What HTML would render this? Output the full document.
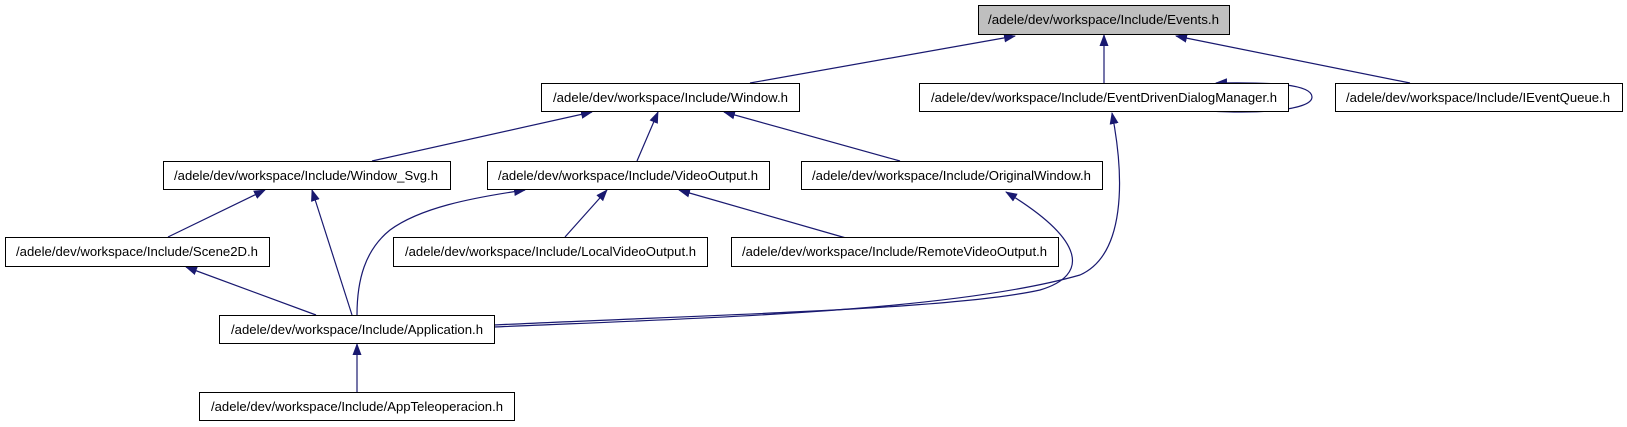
<!DOCTYPE html>
<html><head><meta charset="utf-8"><style>html,body{margin:0;padding:0;background:#fff}svg{display:block}</style></head>
<body>
<svg width="1627" height="427" viewBox="0 0 1627 427" xmlns="http://www.w3.org/2000/svg" font-family="Liberation Sans, sans-serif" font-size="13">
<defs>
<marker id="a" markerWidth="12" markerHeight="10" refX="11" refY="5" orient="auto" markerUnits="userSpaceOnUse">
<path d="M0,0.5 L12,5 L0,9.5 z" fill="#191970"/>
</marker>
</defs>
<g fill="none" stroke="#191970" stroke-width="1.2" marker-end="url(#a)">
<path d="M750,83 L1015,36"/>
<path d="M1104,83 L1104,35"/>
<path d="M1410,83 L1176,36"/>
<path d="M1210,111 C1260,114 1312,110 1312,97 C1312,84 1270,82 1216,83"/>
<path d="M372,161 L592,112"/>
<path d="M637,161 L658,112"/>
<path d="M900,161 L724,112"/>
<path d="M168,237 L265,190"/>
<path d="M352,315 L312,190"/>
<path d="M357,315 C357,280 365,250 390,230 C420,208 470,198 525,190"/>
<path d="M565,237 L607,190"/>
<path d="M846,238 L679,190"/>
<path d="M316,315 L186,267"/>
<path d="M357,392 L357,344"/>
<path d="M494,325 C700,315 950,310 1040,290 C1090,275 1085,240 1006,192"/>
<path d="M494,327 C700,318 950,312 1080,275 C1125,255 1125,180 1112,113"/>
</g>
<g stroke="#000" stroke-width="1" fill="#fff">
<rect x="978.5" y="5.5" width="251" height="29" fill="#bfbfbf"/>
<rect x="541.5" y="83.5" width="258" height="28"/>
<rect x="919.5" y="83.5" width="369" height="28"/>
<rect x="1335.5" y="83.5" width="287" height="28"/>
<rect x="163.5" y="161.5" width="287" height="28"/>
<rect x="487.5" y="161.5" width="282" height="28"/>
<rect x="801.5" y="161.5" width="301" height="28"/>
<rect x="5.5" y="237.5" width="264" height="29"/>
<rect x="393.5" y="237.5" width="314" height="29"/>
<rect x="731.5" y="237.5" width="327" height="29"/>
<rect x="219.5" y="315.5" width="275" height="28"/>
<rect x="199.5" y="392.5" width="315" height="28"/>
</g>
<g fill="#000">
<text x="988" y="24" textLength="231" lengthAdjust="spacingAndGlyphs">/adele/dev/workspace/Include/Events.h</text>
<text x="553" y="102" textLength="235" lengthAdjust="spacingAndGlyphs">/adele/dev/workspace/Include/Window.h</text>
<text x="931" y="102" textLength="346" lengthAdjust="spacingAndGlyphs">/adele/dev/workspace/Include/EventDrivenDialogManager.h</text>
<text x="1346" y="102" textLength="264" lengthAdjust="spacingAndGlyphs">/adele/dev/workspace/Include/IEventQueue.h</text>
<text x="174" y="180" textLength="264" lengthAdjust="spacingAndGlyphs">/adele/dev/workspace/Include/Window_Svg.h</text>
<text x="498" y="180" textLength="260" lengthAdjust="spacingAndGlyphs">/adele/dev/workspace/Include/VideoOutput.h</text>
<text x="812" y="180" textLength="279" lengthAdjust="spacingAndGlyphs">/adele/dev/workspace/Include/OriginalWindow.h</text>
<text x="16" y="256" textLength="242" lengthAdjust="spacingAndGlyphs">/adele/dev/workspace/Include/Scene2D.h</text>
<text x="405" y="256" textLength="291" lengthAdjust="spacingAndGlyphs">/adele/dev/workspace/Include/LocalVideoOutput.h</text>
<text x="742" y="256" textLength="305" lengthAdjust="spacingAndGlyphs">/adele/dev/workspace/Include/RemoteVideoOutput.h</text>
<text x="231" y="334" textLength="252" lengthAdjust="spacingAndGlyphs">/adele/dev/workspace/Include/Application.h</text>
<text x="211" y="411" textLength="292" lengthAdjust="spacingAndGlyphs">/adele/dev/workspace/Include/AppTeleoperacion.h</text>
</g>
</svg>
</body></html>
